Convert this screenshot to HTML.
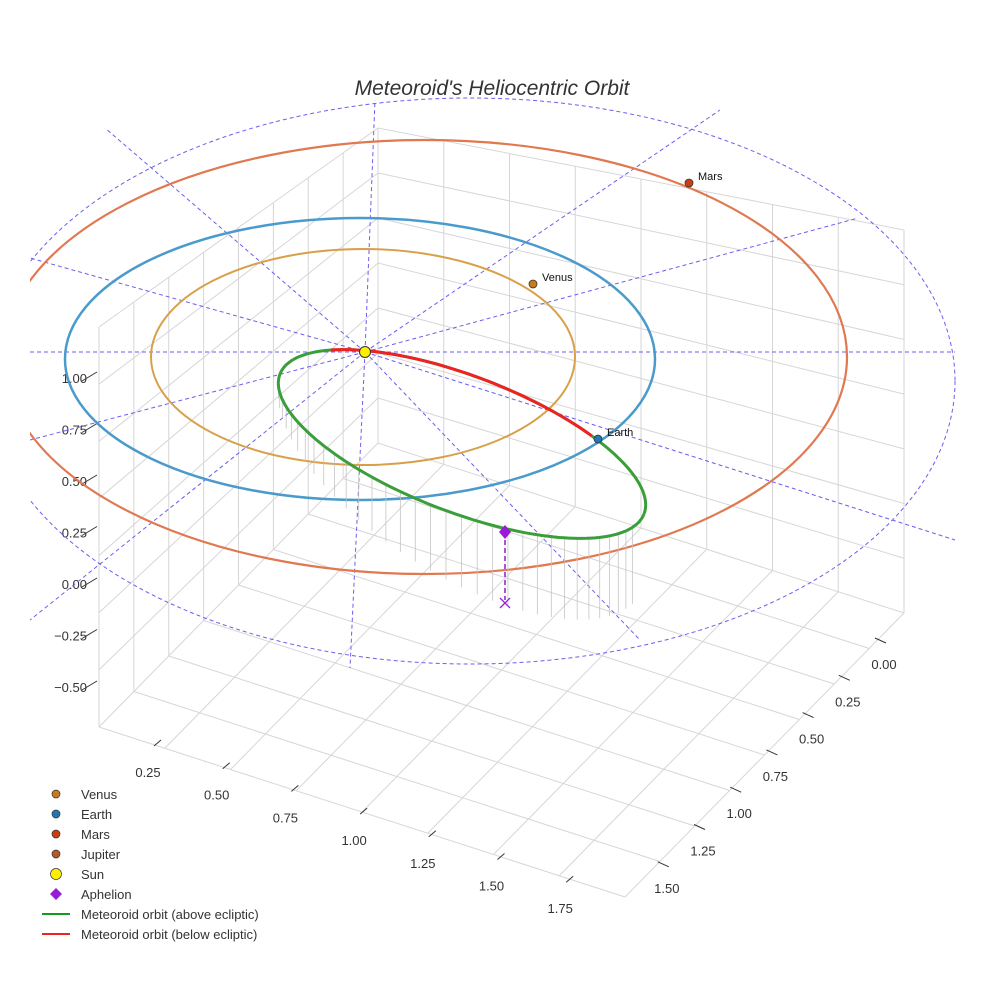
<!DOCTYPE html>
<html><head><meta charset="utf-8">
<style>
html,body{margin:0;padding:0;background:#fff;}
svg{display:block;font-family:"Liberation Sans",sans-serif;}
</style></head>
<body>
<svg id="chart" width="984" height="984" viewBox="0 0 984 984">
<defs><clipPath id="clip"><rect x="30" y="0" width="926" height="984"/></clipPath></defs>
<text x="492" y="95" text-anchor="middle" font-size="21" font-style="italic" fill="#333">Meteoroid's Heliocentric Orbit</text>
<g id="grid"></g>
<g id="ticks"></g>
<g id="guides" clip-path="url(#clip)"></g>
<g id="orbits" clip-path="url(#clip)"></g>
<g id="legend"></g>
</svg>
<script>
const zTicks = ["1.00","0.75","0.50","0.25","0.00","\u22120.25","\u22120.50"];
const xTicks = ["0.25","0.50","0.75","1.00","1.25","1.50","1.75"];
const yTicks = ["0.00","0.25","0.50","0.75","1.00","1.25","1.50"];
const planetNames = ["Venus","Earth","Mars"];
const planetColors = ["#c97a1a","#1f77b4","#c8400f"];
const legendNames = ["Venus","Earth","Mars","Jupiter","Sun","Aphelion","Meteoroid orbit (above ecliptic)","Meteoroid orbit (below ecliptic)"];

const NS="http://www.w3.org/2000/svg";
function mk(parent,tag,attrs){const e=document.createElementNS(NS,tag);for(const k in attrs)e.setAttribute(k,attrs[k]);parent.appendChild(e);return e;}
function gl(p,x1,y1,x2,y2){const l=mk(p,'line',{x1:x1,y1:y1,x2:x2,y2:y2,stroke:"#d6d6d6","stroke-width":1});

}
const grid=document.getElementById('grid');
const A=[99,727],B=[378,443],C=[904,613],D=[625,897];
const HA=400,HB=315,HC=383;
function lerp(p,q,t){return [p[0]+(q[0]-p[0])*t,p[1]+(q[1]-p[1])*t];}
for(let i=0;i<=8;i++){const t=i/8;
  let p=lerp(A,B,t),h=HA+(HB-HA)*t; gl(grid,p[0],p[1],p[0],p[1]-h);
  p=lerp(B,C,t);h=HB+(HC-HB)*t; gl(grid,p[0],p[1],p[0],p[1]-h);
  let p1=lerp(A,B,t),p2=lerp(D,C,t); gl(grid,p1[0],p1[1],p2[0],p2[1]);
  p1=lerp(B,C,t);p2=lerp(A,D,t); gl(grid,p1[0],p1[1],p2[0],p2[1]);
}
for(let j=1;j<=7;j++){const f=j/7;
  gl(grid,A[0],A[1]-HA*f,B[0],B[1]-HB*f);
  gl(grid,B[0],B[1]-HB*f,C[0],C[1]-HC*f);
}
const tk=document.getElementById('ticks');
zTicks.forEach((s,i)=>{const y=378+i*51.5;
  let t=mk(tk,'text',{x:87,y:y+5,"text-anchor":"end","font-size":13,fill:"#333"});t.textContent=s;
  
  
  mk(tk,'line',{x1:82,y1:y+3,x2:97,y2:y-6,stroke:"#333"});});
xTicks.forEach((s,i)=>{const x=148+i*68.7,y=772+i*22.7;
  let t=mk(tk,'text',{x:x,y:y+5,"text-anchor":"middle","font-size":13,fill:"#333"});t.textContent=s;
  
  
  mk(tk,'line',{x1:x+6,y1:y-26,x2:x+13,y2:y-32,stroke:"#333"});});
yTicks.forEach((s,i)=>{const x=884-i*36.2,y=664+i*37.3;
  let t=mk(tk,'text',{x:x,y:y+5,"text-anchor":"middle","font-size":13,fill:"#333"});t.textContent=s;
  
  
  mk(tk,'line',{x1:x-9,y1:y-26,x2:x+2,y2:y-21,stroke:"#333"});});
const gd=document.getElementById('guides');
const ds={stroke:"#6a5ff0","stroke-width":1,"stroke-dasharray":"4,3",fill:"none"};
mk(gd,'ellipse',Object.assign({cx:470,cy:381,rx:485,ry:283},ds));
mk(gd,'line',Object.assign({x1:30,y1:352,x2:955,y2:352},ds));
const S=[365,352];
[[375,100],[350,668],[105,128],[640,640],[30,258],[955,540],[30,440],[858,218],[30,620],[720,110]].forEach(p=>{mk(gd,'line',Object.assign({x1:S[0],y1:S[1],x2:p[0],y2:p[1]},ds));});
const ob=document.getElementById('orbits');
let e;
e=mk(ob,'ellipse',{cx:425,cy:357,rx:422,ry:217,fill:"none",stroke:"#e07850","stroke-width":2.2});


e=mk(ob,'ellipse',{cx:360,cy:359,rx:295,ry:141,fill:"none",stroke:"#4a9acc","stroke-width":2.5});


e=mk(ob,'ellipse',{cx:363,cy:357,rx:212,ry:108,fill:"none",stroke:"#d9a04a","stroke-width":2});


const mcx=462,mcy=444,ma=195,mb=68,rot=21*Math.PI/180;
function mp(t){const x=ma*Math.cos(t),y=mb*Math.sin(t);return [mcx+x*Math.cos(rot)-y*Math.sin(rot),mcy+x*Math.sin(rot)+y*Math.cos(rot)];}
for(let i=0;i<34;i++){const t=0.25+i*0.085;const p=mp(t);const len=Math.max(5,(p[1]-380)*0.45+10);
  mk(ob,'line',{x1:p[0],y1:p[1],x2:p[0],y2:p[1]+len,stroke:"#c4c4c4","stroke-width":0.8});}
let d="";for(let i=0;i<=200;i++){const p=mp(i/200*2*Math.PI);d+=(i?"L":"M")+p[0].toFixed(1)+","+p[1].toFixed(1);}
e=mk(ob,'path',{d:d,fill:"none",stroke:"#3a9e3a","stroke-width":3});


d="";for(let i=0;i<=60;i++){const t=-2.5+i/60*1.58;const p=mp(t);d+=(i?"L":"M")+p[0].toFixed(1)+","+p[1].toFixed(1);}
e=mk(ob,'path',{d:d,fill:"none",stroke:"#ee2222","stroke-width":3});


mk(ob,'line',{x1:505,y1:532,x2:505,y2:600,stroke:"#8a1ad0","stroke-width":1.5,"stroke-dasharray":"5,3"});
e=mk(ob,'path',{d:"M505,525 L511,532 L505,539 L499,532 Z",fill:"#9a1ad8"});


e=mk(ob,'path',{d:"M500,598 L510,608 M510,598 L500,608",stroke:"#9a1ad8","stroke-width":1.3});


e=mk(ob,'circle',{cx:365,cy:352,r:5.5,fill:"#ffef00",stroke:"#333","stroke-width":1});


const ppos=[[533,284],[598,439],[689,183]];
planetNames.forEach((n,i)=>{let c=mk(ob,'circle',{cx:ppos[i][0],cy:ppos[i][1],r:4,fill:planetColors[i],stroke:"#333","stroke-width":0.8});
  
  
  let t=mk(ob,'text',{x:ppos[i][0]+9,y:ppos[i][1]-3,"font-size":11,fill:"#111"});t.textContent=n;
  
  });
const lg=document.getElementById('legend');
const lcol=["#c97a1a","#1f77b4","#c8400f","#b45a2a","#ffef00","#9a1ad8","#1a9a1a","#ee2222"];
legendNames.forEach((n,i)=>{const y=794+i*20;const g=mk(lg,'g',{});
  
  
  if(i<4) mk(g,'circle',{cx:56,cy:y,r:4,fill:lcol[i],stroke:"#333","stroke-width":0.7});
  else if(i==4) mk(g,'circle',{cx:56,cy:y,r:5.5,fill:lcol[i],stroke:"#333","stroke-width":0.7});
  else if(i==5) mk(g,'path',{d:`M56,${y-6} L62,${y} L56,${y+6} L50,${y} Z`,fill:lcol[i]});
  else mk(g,'line',{x1:42,y1:y,x2:70,y2:y,stroke:lcol[i],"stroke-width":2});
  const t=mk(g,'text',{x:81,y:y+5,"font-size":13,fill:"#333"});t.textContent=n;});
</script>
</body></html>
